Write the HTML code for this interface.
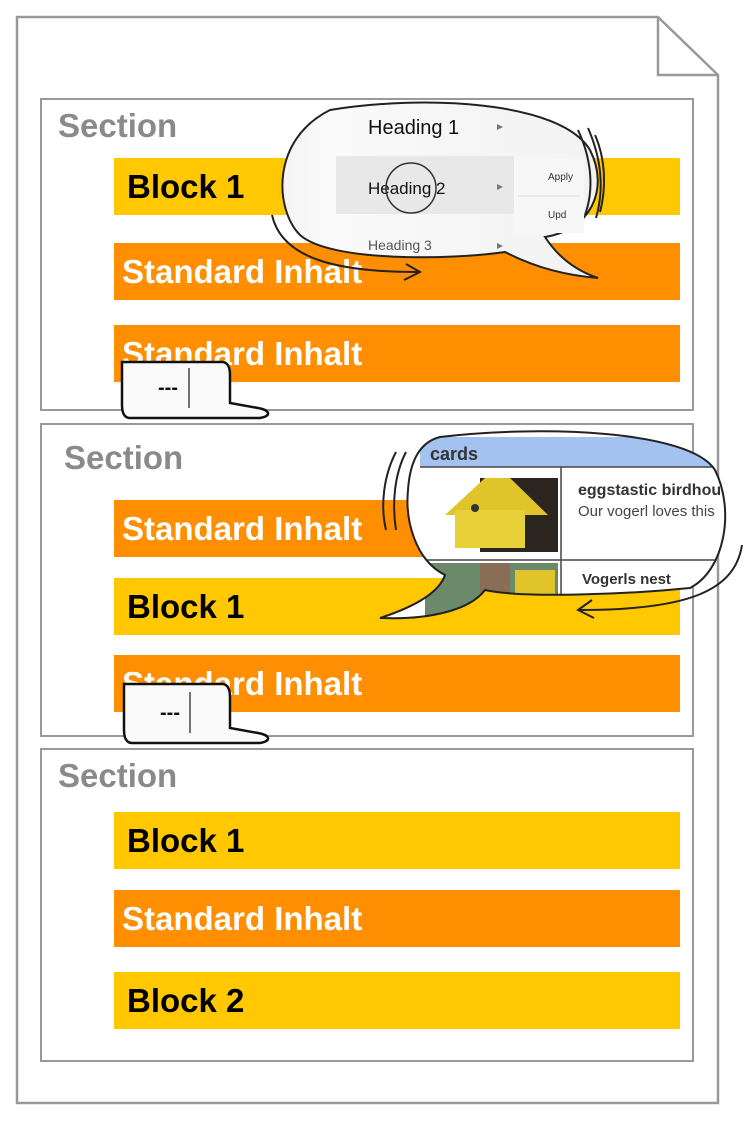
<!DOCTYPE html>
<html><head><meta charset="utf-8"><style>
body{margin:0;width:750px;height:1122px;background:#fff;position:relative;overflow:hidden;font-family:"Liberation Sans",sans-serif}
.a{position:absolute}
.sec{position:absolute;border:2px solid #999;box-sizing:border-box;left:40px;width:654px}
.lab{position:absolute;color:#8a8a8a;font-weight:bold;font-size:33px}
.bar{position:absolute;left:114px;width:566px;height:57px;font-weight:bold;font-size:33px;line-height:57px;box-sizing:border-box}
.y{background:#FFC800;color:#000;padding-left:13px}
.o{background:#FF8F00;color:#fff;padding-left:8px}
</style></head><body>
<svg class="a" style="left:0;top:0" width="750" height="1122">
<path d="M17 17 H658 L718 75 V1103 H17 Z" fill="#fff" stroke="#999" stroke-width="2.5"/>
<path d="M658 17 V75 H718" fill="none" stroke="#999" stroke-width="2.5"/>
</svg>
<div class="sec" style="top:98px;height:313px"></div>
<div class="sec" style="top:423px;height:314px"></div>
<div class="sec" style="top:748px;height:314px"></div>
<div class="lab" style="left:58px;top:107px">Section</div>
<div class="lab" style="left:64px;top:439px">Section</div>
<div class="lab" style="left:58px;top:757px">Section</div>
<div class="bar y" style="top:158px">Block 1</div>
<div class="bar o" style="top:243px">Standard Inhalt</div>
<div class="bar o" style="top:325px">Standard Inhalt</div>
<div class="bar o" style="top:500px">Standard Inhalt</div>
<div class="bar y" style="top:578px">Block 1</div>
<div class="bar o" style="top:655px">Standard Inhalt</div>
<div class="bar y" style="top:812px">Block 1</div>
<div class="bar o" style="top:890px">Standard Inhalt</div>
<div class="bar y" style="top:972px">Block 2</div>
<svg class="a" style="left:0;top:0" width="750" height="1122">
<defs><linearGradient id="g" x1="0" x2="1"><stop offset="0" stop-color="#f4f4f4"/><stop offset=".15" stop-color="#fafafa"/><stop offset="1" stop-color="#f2f2f2"/></linearGradient></defs>
<path d="M330 110 C420 95 560 100 590 150 C610 190 590 230 545 237 C560 260 580 272 598 278 C560 275 530 265 505 252 C450 260 330 262 300 235 C275 210 270 140 330 110 Z" fill="url(#g)" stroke="#222" stroke-width="2"/>
<rect x="336" y="156" width="178" height="58" fill="#e8e8e8"/>
<rect x="514" y="158" width="70" height="75" fill="#f7f7f7"/>
<line x1="518" y1="196" x2="580" y2="196" stroke="#ddd"/>
<text x="368" y="134" font-size="20" fill="#111">Heading 1</text>
<text x="368" y="194" font-size="17" fill="#111">Heading 2</text>
<text x="368" y="250" font-size="14" fill="#555">Heading 3</text>
<text x="548" y="180" font-size="10" fill="#333">Apply</text>
<text x="548" y="218" font-size="10" fill="#333">Upd</text>
<path d="M497 124 l6 3 -6 3Z M497 184 l6 3 -6 3Z M497 243 l6 3 -6 3Z" fill="#777"/>
<circle cx="411" cy="188" r="25" fill="none" stroke="#333" stroke-width="1.5"/>
<path d="M578 130 C592 160 594 190 585 215 M588 128 C602 160 604 190 596 218 M595 135 C606 160 606 190 600 212" fill="none" stroke="#222" stroke-width="2"/>
<path d="M272 215 C282 260 340 272 418 272 M406 264 L420 272 L404 280" fill="none" stroke="#222" stroke-width="2"/>
<path d="M122 362 H222 C228 362 230 368 230 375 V403 L258 408 C270 410 272 416 260 418 H130 C124 418 122 412 122 405 Z" fill="#fafafa" stroke="#111" stroke-width="2.5"/>
<line x1="189" y1="368" x2="189" y2="408" stroke="#444" stroke-width="1.5"/>
<text x="158" y="394" font-size="20" font-weight="bold" fill="#111">---</text>
<path d="M124 684 H222 C228 684 230 690 230 697 V728 L258 733 C270 735 272 741 260 743 H132 C126 743 124 737 124 730 Z" fill="#fafafa" stroke="#111" stroke-width="2.5"/>
<line x1="190" y1="692" x2="190" y2="733" stroke="#444" stroke-width="1.5"/>
<text x="160" y="719" font-size="20" font-weight="bold" fill="#111">---</text>
<clipPath id="c2"><path d="M440 437 C540 425 690 430 715 470 C735 510 725 570 690 588 C620 595 520 598 485 590 C470 610 430 620 380 618 C420 605 440 590 445 575 C415 560 405 520 408 490 C410 460 420 442 440 437 Z"/></clipPath>
<path d="M440 437 C540 425 690 430 715 470 C735 510 725 570 690 588 C620 595 520 598 485 590 C470 610 430 620 380 618 C420 605 440 590 445 575 C415 560 405 520 408 490 C410 460 420 442 440 437 Z" fill="#fff"/>
<g clip-path="url(#c2)">
<rect x="420" y="437" width="320" height="30" fill="#a3c2f0"/>
<line x1="420" y1="467" x2="740" y2="467" stroke="#444" stroke-width="1.5"/>
<line x1="561" y1="467" x2="561" y2="620" stroke="#444" stroke-width="1.5"/>
<line x1="420" y1="560" x2="740" y2="560" stroke="#444" stroke-width="1.5"/>
<rect x="440" y="478" width="118" height="74" fill="#2b2520"/>
<rect x="440" y="478" width="40" height="74" fill="#fff"/>
<path d="M445 515 L485 478 H510 L548 515 Z" fill="#e0c42a"/>
<rect x="455" y="510" width="70" height="38" fill="#e8d038"/>
<circle cx="475" cy="508" r="4" fill="#333"/>
<rect x="425" y="563" width="133" height="60" fill="#6a8a6a"/>
<rect x="480" y="563" width="30" height="60" fill="#8a6d55"/>
<rect x="515" y="570" width="40" height="30" fill="#e0c42a"/>
<text x="578" y="495" font-size="16" font-weight="bold" fill="#333">eggstastic birdhouse</text>
<text x="578" y="516" font-size="15" fill="#444">Our vogerl loves this</text>
<text x="582" y="584" font-size="15" font-weight="bold" fill="#333">Vogerls nest</text>
</g>
<text x="430" y="460" font-size="18" font-weight="bold" fill="#333">cards</text>
<path d="M440 437 C540 425 690 430 715 470 C735 510 725 570 690 588 C620 595 520 598 485 590 C470 610 430 620 380 618 C420 605 440 590 445 575 C415 560 405 520 408 490 C410 460 420 442 440 437 Z" fill="none" stroke="#222" stroke-width="2"/>
<path d="M396 452 C384 475 380 505 386 530 M406 452 C394 475 392 505 396 530" fill="none" stroke="#222" stroke-width="2"/>
<path d="M742 545 C735 590 690 610 580 610 M592 600 L578 610 L594 618" fill="none" stroke="#222" stroke-width="2"/>
</svg>
</body></html>
